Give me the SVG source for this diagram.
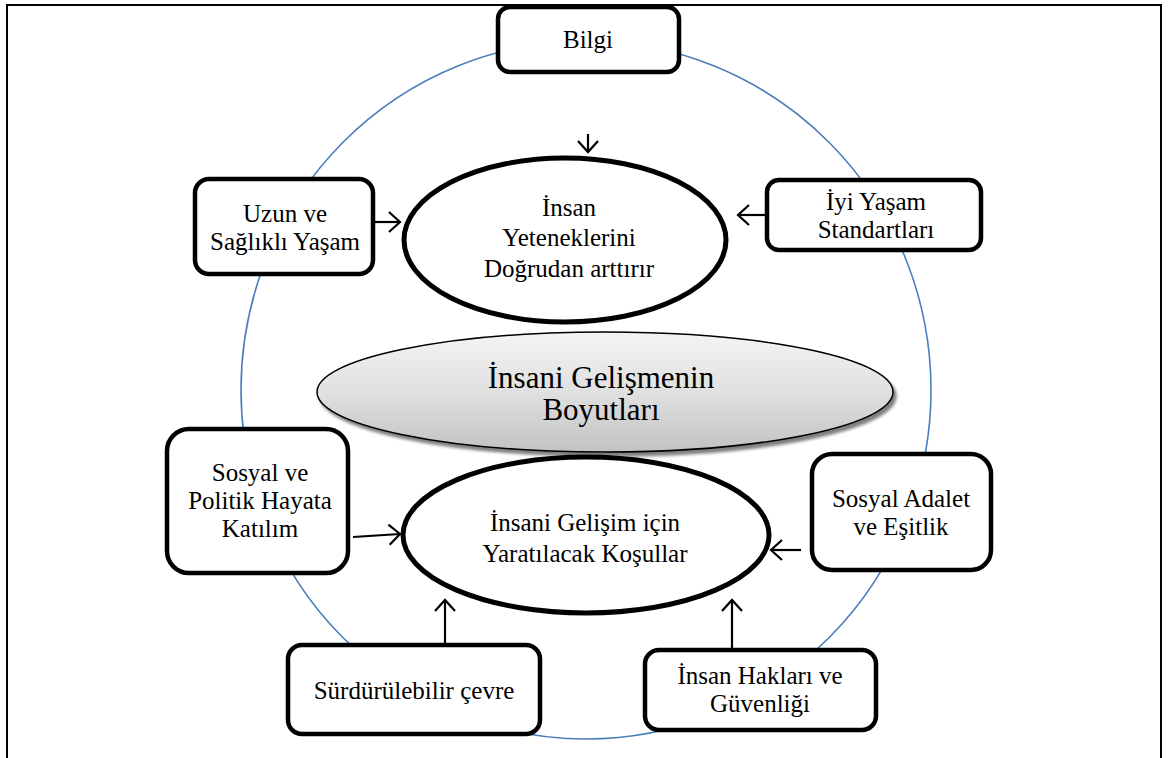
<svg xmlns="http://www.w3.org/2000/svg" width="1174" height="758" viewBox="0 0 1174 758">
<style>
  .box { fill: #ffffff; stroke: #000000; stroke-width: 4.5; }
  .ell { fill: #ffffff; stroke: #000000; stroke-width: 5; }
  .t { font-family: "Liberation Serif", "Times New Roman", serif; font-size: 25px; fill: #000000; text-anchor: middle; }
  .tc { font-family: "Liberation Serif", "Times New Roman", serif; font-size: 31px; fill: #000000; text-anchor: middle; }
  .arr { stroke: #000000; stroke-width: 2.2; fill: none; marker-end: url(#ah); }
</style>
<defs>
  <marker id="ah" markerUnits="userSpaceOnUse" markerWidth="14" markerHeight="22" refX="12" refY="11" orient="auto">
    <path d="M1,1 L12,11 L1,21" fill="none" stroke="#000000" stroke-width="2.2"/>
  </marker>
  <linearGradient id="gray" x1="0" y1="0" x2="0" y2="1">
    <stop offset="0" stop-color="#f4f4f4"/>
    <stop offset="0.5" stop-color="#e0e0e0"/>
    <stop offset="1" stop-color="#c2c2c2"/>
  </linearGradient>
  <filter id="sh" x="-10%" y="-20%" width="120%" height="150%">
    <feGaussianBlur in="SourceAlpha" stdDeviation="1.5"/>
    <feOffset dx="3" dy="4" result="b"/>
    <feComponentTransfer><feFuncA type="linear" slope="0.5"/></feComponentTransfer>
    <feMerge><feMergeNode/><feMergeNode in="SourceGraphic"/></feMerge>
  </filter>
</defs>
<rect width="1174" height="758" fill="#ffffff"/>
<g id="frame" fill="none" stroke="#000000" stroke-width="2">
  <polyline points="7,758 7,5 1161,5 1161,758"/>
</g>
<g id="ring">
  <ellipse cx="586" cy="390" rx="345" ry="349" fill="none" stroke="#4a7ebb" stroke-width="1.6"/>
</g>
<g id="connectors">
  <line class="arr" x1="588" y1="134" x2="588" y2="152"/>
  <line class="arr" x1="375" y1="222" x2="400" y2="222"/>
  <line class="arr" x1="766" y1="215" x2="738" y2="215"/>
  <line class="arr" x1="353" y1="537" x2="400" y2="534"/>
  <line class="arr" x1="801" y1="550" x2="771" y2="550"/>
  <line class="arr" x1="445" y1="644" x2="445" y2="600"/>
  <line class="arr" x1="732" y1="648" x2="732" y2="600"/>
</g>
<g id="n-center">
  <ellipse cx="605" cy="392" rx="288" ry="60" fill="url(#gray)" stroke="#000000" stroke-width="1.5" filter="url(#sh)"/>
  <text class="tc" x="601" y="388">İnsani Gelişmenin</text>
  <text class="tc" x="601" y="420">Boyutları</text>
</g>
<g id="n-upper">
  <ellipse class="ell" cx="565" cy="240" rx="161" ry="82"/>
  <text class="t" x="569" y="216">İnsan</text>
  <text class="t" x="569" y="246">Yeteneklerini</text>
  <text class="t" x="569" y="277">Doğrudan arttırır</text>
</g>
<g id="n-lower">
  <ellipse class="ell" cx="586" cy="535" rx="183" ry="78"/>
  <text class="t" x="585" y="531">İnsani Gelişim için</text>
  <text class="t" x="585" y="562">Yaratılacak Koşullar</text>
</g>
<g id="n-bilgi">
  <rect class="box" x="498" y="7" width="181" height="65" rx="12"/>
  <text class="t" x="588" y="48">Bilgi</text>
</g>
<g id="n-uzun">
  <rect class="box" x="195" y="179" width="178" height="95" rx="14"/>
  <text class="t" x="285" y="222">Uzun ve</text>
  <text class="t" x="285" y="250">Sağlıklı Yaşam</text>
</g>
<g id="n-iyi">
  <rect class="box" x="767" y="180" width="214" height="70" rx="12"/>
  <text class="t" x="876" y="210">İyi Yaşam</text>
  <text class="t" x="876" y="238">Standartları</text>
</g>
<g id="n-sosyal">
  <rect class="box" x="167" y="429" width="181" height="144" rx="22"/>
  <text class="t" x="260" y="481">Sosyal ve</text>
  <text class="t" x="260" y="509">Politik Hayata</text>
  <text class="t" x="260" y="537">Katılım</text>
</g>
<g id="n-adalet">
  <rect class="box" x="812" y="454" width="179" height="116" rx="20"/>
  <text class="t" x="901" y="507">Sosyal Adalet</text>
  <text class="t" x="901" y="535">ve Eşitlik</text>
</g>
<g id="n-surdur">
  <rect class="box" x="288" y="645" width="252" height="89" rx="14"/>
  <text class="t" x="414" y="699">Sürdürülebilir çevre</text>
</g>
<g id="n-hak">
  <rect class="box" x="645" y="650" width="231" height="80" rx="14"/>
  <text class="t" x="760" y="684">İnsan Hakları ve</text>
  <text class="t" x="760" y="712">Güvenliği</text>
</g>
</svg>
